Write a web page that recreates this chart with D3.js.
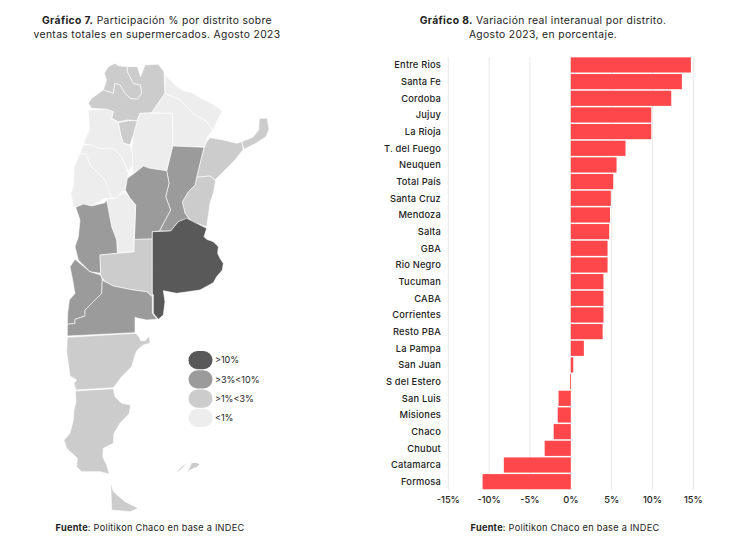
<!DOCTYPE html>
<html><head><meta charset="utf-8">
<script src="https://cdn.jsdelivr.net/npm/d3@7"></script>
<style>html,body{margin:0;background:#fff}svg{display:block}text{font-family:Inter,"Open Sans",sans-serif;fill:#222}</style>
</head><body><svg id="c" width="738" height="544"></svg>
<script>
const barCategories=["Entre Rios","Santa Fe","Cordoba","Jujuy","La Rioja","T. del Fuego","Neuquen","Total País","Santa Cruz","Mendoza","Salta","GBA","Rio Negro","Tucuman","CABA","Corrientes","Resto PBA","La Pampa","San Juan","S del Estero","San Luis","Misiones","Chaco","Chubut","Catamarca","Formosa"];
const barValues=[14.7,13.6,12.3,9.85,9.85,6.7,5.6,5.2,4.9,4.8,4.7,4.5,4.5,4.0,4.0,4.0,3.9,1.6,0.3,-0.1,-1.5,-1.6,-2.1,-3.2,-8.2,-10.8];
const axisTicks=[-15,-10,-5,0,5,10,15];
const legendLabels=[">10%",">3%<10%",">1%<3%","<1%"];
const legendColors=["#595959","#9b9b9b","#cccccc","#ededed"];
const provinceNames=["Jujuy","Salta","Formosa","Chaco","Misiones","Corrientes","Entre Rios","Santa Fe","S del Estero","Tucuman","Catamarca","La Rioja","San Juan","Cordoba","San Luis","Mendoza","La Pampa","Buenos Aires","Neuquen","Rio Negro","Chubut","Santa Cruz","T. del Fuego","Malvinas O","Malvinas E"];
const provinceClasses=[2,2,3,3,2,2,2,1,3,2,3,3,3,1,3,1,2,0,1,1,2,2,2,2,2];
const provinceRings=[
[[195,40],[205,47],[232,50],[232,65],[240,80],[250,100],[272,105],[275,130],[262,148],[240,145],[225,130],[210,105],[195,100],[190,130],[160,120],[170,90],[163,70],[175,50]],
[[232,50],[262,50],[272,80],[285,45],[325,43],[342,65],[345,130],[305,188],[270,190],[262,212],[235,210],[205,215],[185,205],[190,185],[170,178],[125,175],[115,160],[125,145],[160,120],[190,130],[195,100],[210,105],[225,130],[240,145],[262,148],[275,130],[272,105],[250,100],[240,80],[232,65]],
[[345,75],[375,105],[400,122],[425,128],[445,140],[475,155],[500,170],[517,183],[505,205],[490,240],[470,215],[430,190],[390,150],[345,130]],
[[345,130],[390,150],[430,190],[470,215],[488,240],[472,262],[465,290],[368,288],[367,190],[305,188]],
[[628,205],[652,205],[657,238],[648,260],[618,280],[582,298],[575,275],[608,262],[626,240]],
[[480,263],[520,270],[560,280],[575,275],[580,298],[555,330],[525,360],[495,390],[480,378],[440,382],[450,340],[462,295],[470,275]],
[[440,382],[480,378],[497,392],[490,430],[480,460],[470,530],[425,515],[405,490],[397,455],[415,425],[435,405]],
[[368,288],[462,292],[450,340],[440,382],[435,405],[415,425],[397,455],[405,490],[420,510],[385,515],[362,543],[328,543],[362,480],[347,440],[357,400],[350,362]],
[[270,190],[367,190],[368,288],[350,362],[300,355],[280,348],[250,370],[245,340],[245,300],[250,255],[262,212]],
[[205,218],[235,212],[262,212],[250,255],[240,285],[220,280],[212,255]],
[[115,180],[170,178],[190,185],[185,205],[205,218],[212,255],[220,280],[240,285],[247,310],[248,345],[235,365],[215,320],[190,295],[145,295],[110,283],[100,280],[118,240]],
[[100,285],[125,285],[145,295],[190,295],[215,320],[235,370],[225,420],[195,445],[180,440],[165,390],[120,345],[108,312],[90,310]],
[[90,310],[108,312],[120,345],[165,390],[185,445],[165,445],[125,468],[100,465],[72,472],[62,430],[70,410],[72,350]],
[[250,372],[280,348],[300,355],[350,362],[357,400],[347,440],[362,480],[328,543],[307,545],[307,567],[253,569],[257,465],[240,445],[226,420],[232,385]],
[[170,447],[195,445],[225,425],[240,445],[257,465],[253,568],[252,605],[202,610],[200,570],[185,530]],
[[77,472],[100,462],[125,468],[165,458],[170,450],[185,530],[200,570],[202,610],[150,615],[152,670],[120,665],[85,630],[75,590],[85,560],[90,510]],
[[150,615],[202,610],[252,606],[253,568],[307,567],[307,740],[290,725],[250,720],[190,708],[165,695],[152,678]],
[[307,545],[362,543],[385,515],[410,505],[470,535],[462,560],[470,568],[490,575],[505,590],[503,610],[510,625],[520,640],[517,660],[500,680],[490,698],[450,720],[380,730],[340,722],[345,755],[340,795],[325,808],[310,790],[310,735],[307,730]],
[[75,628],[120,665],[152,675],[157,690],[155,730],[105,780],[105,798],[75,808],[75,820],[52,823],[53,790],[58,750],[75,730],[68,690],[60,650]],
[[165,695],[190,708],[250,720],[290,725],[307,740],[307,790],[322,808],[290,810],[265,805],[255,802],[255,848],[52,858],[52,823],[75,820],[75,808],[105,798],[105,780],[155,730],[157,690]],
[[52,862],[258,850],[268,862],[272,872],[285,872],[298,858],[300,880],[280,885],[262,900],[255,915],[245,950],[215,980],[190,1013],[78,1020],[72,1000],[80,990],[60,978],[55,940],[50,905]],
[[76,1023],[190,1016],[195,1040],[215,1060],[242,1065],[238,1090],[210,1120],[192,1150],[190,1180],[160,1195],[158,1220],[170,1245],[178,1272],[150,1265],[95,1265],[80,1250],[82,1225],[50,1195],[42,1170],[60,1150],[70,1110],[72,1080],[78,1055]],
[[182,1297],[190,1325],[225,1355],[265,1375],[240,1385],[185,1380]],
[[380,1265],[395,1250],[410,1238],[400,1252],[385,1265]],
[[410,1268],[420,1250],[425,1238],[440,1238],[450,1242],[440,1252],[420,1260]]
];
const svg=d3.select("#c");
const mx=d3.scaleLinear().domain([0,690]).range([50,280]);
const my=d3.scaleLinear().domain([0,720]).range([50,290]);
const line=d3.line().x(d=>mx(d[0])).y(d=>my(d[1])).curve(d3.curveLinearClosed);
svg.append("g").selectAll("path").data(provinceRings).join("path")
 .attr("d",line).attr("fill",(d,i)=>legendColors[provinceClasses[i]])
 .attr("stroke","#fff").attr("stroke-width",0.6).attr("stroke-linejoin","round");
const ly=d3.scaleBand().domain(legendLabels).range([351,427]).paddingInner(0.06);
const lg=svg.append("g").selectAll("g").data(legendLabels).join("g");
lg.append("rect").attr("x",188.5).attr("width",24).attr("y",d=>ly(d)).attr("height",ly.bandwidth()).attr("rx",9)
 .attr("fill",(d,i)=>legendColors[i]);
lg.append("text").attr("x",215).attr("y",d=>ly(d)+ly.bandwidth()/2).attr("dy","0.35em").attr("font-size",9).text(d=>d);
const x=d3.scaleLinear().domain([-15,15]).range([448.3,693.3]);
const y=d3.scaleBand().domain(barCategories).range([56.6,490]).paddingInner(0.09).paddingOuter(0.045);
svg.append("g").selectAll("line").data(axisTicks).join("line")
 .attr("x1",d=>x(d)).attr("x2",d=>x(d)).attr("y1",57).attr("y2",490).attr("stroke","#e9e9e9").attr("stroke-width",1);
svg.append("g").selectAll("rect").data(barValues).join("rect")
 .attr("x",d=>x(Math.min(0,d))).attr("width",d=>Math.abs(x(d)-x(0))).attr("y",(d,i)=>y(barCategories[i])).attr("height",y.bandwidth())
 .attr("fill","#fd474b");
svg.append("g").selectAll("text").data(barCategories).join("text")
 .attr("x",441).attr("y",d=>y(d)+y.bandwidth()/2).attr("dy","0.35em").attr("text-anchor","end").attr("font-size",9.3).attr("letter-spacing",0.2).attr("font-weight",500).text(d=>d);
svg.append("g").selectAll("text").data(axisTicks).join("text")
 .attr("x",d=>x(d)).attr("y",503).attr("text-anchor","middle").attr("font-size",9.3).attr("font-weight",500).text(d=>d+"%");
function title(cx,yy,bold,rest,size,sp){const t=svg.append("text").attr("x",cx).attr("y",yy).attr("text-anchor","middle").attr("font-size",size).attr("letter-spacing",sp);
 if(bold)t.append("tspan").attr("font-weight",700).text(bold);t.append("tspan").text(rest);}
title(157,24,"Gráfico 7."," Participación % por distrito sobre",10.3,0.37);
title(157,38,"","ventas totales en supermercados. Agosto 2023",10.3,0.37);
title(543,24,"Gráfico 8."," Variación real interanual por distrito.",10.3,0.37);
title(543,38,"","Agosto 2023, en porcentaje.",10.3,0.37);
title(150,531,"Fuente",": Politikon Chaco en base a INDEC",9.2,0.25);
title(565,531,"Fuente",": Politikon Chaco en base a INDEC",9.2,0.25);
</script></body></html>
